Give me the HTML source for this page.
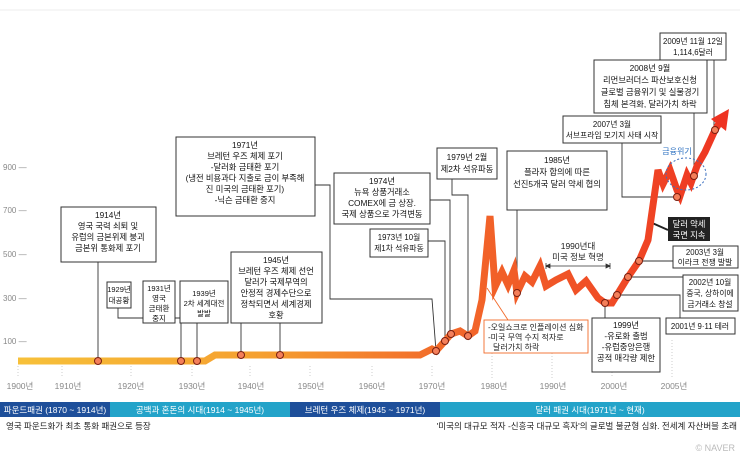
<!DOCTYPE html>
<html><head><meta charset="utf-8"><style>
body{margin:0;background:#fff;}
svg{display:block;font-family:"Liberation Sans","Noto Sans CJK KR",sans-serif;}
</style></head><body>
<svg width="740" height="461" viewBox="0 0 740 461" xmlns="http://www.w3.org/2000/svg">
<defs>
<linearGradient id="g" x1="0" y1="0" x2="740" y2="0" gradientUnits="userSpaceOnUse">
<stop offset="0" stop-color="#f7c33a"/><stop offset="0.35" stop-color="#f5a030"/><stop offset="0.6" stop-color="#f26a2a"/><stop offset="1" stop-color="#ee3322"/>
</linearGradient>
</defs>
<line x1="0" y1="10" x2="740" y2="10" stroke="#eee"/>
<g font-size="8" fill="#888">
<text x="3" y="170">900 —</text><text x="3" y="213">700 —</text><text x="3" y="257">500 —</text><text x="3" y="301">300 —</text><text x="3" y="344">100 —</text>
</g>
<g stroke="#ccc" stroke-dasharray="1,2">
<line x1="18" y1="366" x2="18" y2="378"/><line x1="62" y1="366" x2="62" y2="378"/><line x1="131" y1="366" x2="131" y2="378"/><line x1="192" y1="366" x2="192" y2="378"/><line x1="250" y1="366" x2="250" y2="378"/><line x1="310" y1="366" x2="310" y2="378"/><line x1="372" y1="366" x2="372" y2="378"/><line x1="432" y1="366" x2="432" y2="378"/><line x1="492" y1="350" x2="492" y2="378"/><line x1="552" y1="350" x2="552" y2="378"/><line x1="612" y1="372" x2="612" y2="378"/><line x1="672" y1="340" x2="672" y2="378"/>
</g>
<g font-size="8.5" fill="#888" text-anchor="middle">
<text x="20" y="389">1900년</text><text x="68" y="389">1910년</text><text x="131" y="389">1920년</text><text x="192" y="389">1930년</text><text x="251" y="389">1940년</text><text x="311" y="389">1950년</text><text x="372" y="389">1960년</text><text x="432" y="389">1970년</text><text x="494" y="389">1980년</text><text x="553" y="389">1990년</text><text x="614" y="389">2000년</text><text x="674" y="389">2005년</text>
</g>
<rect x="0" y="402" width="110" height="15" fill="#1e4f9a"/>
<rect x="110" y="402" width="180" height="15" fill="#23a3c9"/>
<rect x="290" y="402" width="150" height="15" fill="#1e4f9a"/>
<rect x="440" y="402" width="300" height="15" fill="#23a3c9"/>
<g font-size="8.5" fill="#fff" text-anchor="middle">
<text x="55" y="413">파운드패권 (1870 ~ 1914년)</text><text x="200" y="413">공백과 혼돈의 시대(1914 ~ 1945년)</text><text x="365" y="413">브레턴 우즈 체제(1945 ~ 1971년)</text><text x="590" y="413">달러 패권 시대(1971년 ~ 현재)</text>
</g>
<text x="6" y="429" font-size="8.5" fill="#222">영국 파운드화가 최초 통화 패권으로 등장</text>
<text x="737" y="429" font-size="8.5" fill="#222" text-anchor="end">'미국의 대규모 적자 -신흥국 대규모 흑자'의 글로벌 불균형 심화. 전세계 자산버블 초래</text>
<text x="735" y="451" font-size="9" fill="#bbb" text-anchor="end">© NAVER</text>

<g stroke="#333" fill="none" stroke-width="0.9">
<line x1="98" y1="262" x2="98" y2="361"/>
<polyline points="118,308 118,318 181,318 181,361"/>
<line x1="197" y1="323" x2="197" y2="361"/>
<line x1="241" y1="323" x2="241" y2="355"/>
<line x1="280" y1="323" x2="280" y2="355"/>
<polyline points="315,185 330,185 330,299 432,299 436,351"/>
<polyline points="430,200 450,200 450,334"/>
<polyline points="428,241 445,241 445,341"/>
<polyline points="452,179 452,195 468,195 468,336"/>
<line x1="517" y1="210" x2="517" y2="293"/>
<line x1="605" y1="303" x2="605" y2="318"/>
<polyline points="617,295 680,295 680,320"/>
<line x1="628" y1="277" x2="683" y2="277"/>
<line x1="639" y1="261" x2="673" y2="261"/>
<polyline points="622,143 622,197 677,197"/>
<line x1="694" y1="113" x2="694" y2="176"/>
<line x1="714" y1="60" x2="714" y2="130"/>
<line x1="650" y1="222" x2="668" y2="230" stroke="#222" stroke-width="2"/>
</g>
<polyline points="487,288 508,320" stroke="#f26a2a" fill="none" stroke-width="0.9"/>
<text x="578" y="249" font-size="8.5" fill="#222" text-anchor="middle">1990년대</text>
<text x="578" y="260" font-size="8.5" fill="#222" text-anchor="middle">미국 정보 혁명</text>
<line x1="546" y1="266" x2="610" y2="266" stroke="#333" stroke-width="0.8"/>
<path d="M546,263v6M610,263v6M546,266l4,-2v4zM610,266l-4,-2v4z" stroke="#333" stroke-width="0.8" fill="#333"/>

<polyline fill="none" stroke="url(#g)" stroke-width="7" stroke-linejoin="miter" points="18,361 205,361 215,355 420,355 432,349 436,351 445,341 451,334 460,331 468,336 475,331 482,300 490,216 495,287 502,272 508,285 514,270 517,293 525,276 532,282 540,266 546,286 556,280 568,274 576,290 586,281 598,298 605,303 612,303 617,295 628,277 639,261 648,240 658,170 663,184 670,170 677,190 680,196 687,175 691,183 697,166 705,152 715,130 720,122"/>
<polygon points="711,119 729,109 726,131" fill="#ee3322"/>
<g fill="#f47f5a" stroke="#7a1f10" stroke-width="1">
<circle cx="98" cy="361" r="3.5"/><circle cx="181" cy="361" r="3.5"/><circle cx="197" cy="361" r="3.5"/><circle cx="241" cy="355" r="3.5"/><circle cx="280" cy="355" r="3.5"/><circle cx="436" cy="351" r="3.5"/><circle cx="445" cy="341" r="3.5"/><circle cx="451" cy="334" r="3.5"/><circle cx="468" cy="336" r="3.5"/><circle cx="517" cy="293" r="3.5"/><circle cx="605" cy="303" r="3.5"/><circle cx="617" cy="295" r="3.5"/><circle cx="628" cy="277" r="3.5"/><circle cx="639" cy="261" r="3.5"/><circle cx="677" cy="197" r="3.5"/><circle cx="694" cy="176" r="3.5"/><circle cx="715" cy="130" r="3.5"/>
</g>
<ellipse cx="686" cy="174" rx="20" ry="16" fill="none" stroke="#3a6fc0" stroke-dasharray="2,2"/>
<text x="677" y="154" font-size="8" fill="#2a6fc0" text-anchor="middle">금융위기</text>

<g fill="#fff" stroke="#333" stroke-width="1">
<rect x="61" y="207" width="95" height="55"/>
<rect x="107" y="282" width="24" height="26"/>
<rect x="143" y="281" width="32" height="42"/>
<rect x="180" y="281" width="48" height="42"/>
<rect x="231" y="252" width="91" height="71"/>
<rect x="176" y="137" width="139" height="79"/>
<rect x="334" y="173" width="96" height="51"/>
<rect x="370" y="229" width="58" height="28"/>
<rect x="437" y="148" width="60" height="31"/>
<rect x="507" y="151" width="100" height="59"/>
<rect x="592" y="318" width="68" height="54"/>
<rect x="666" y="318" width="69" height="16"/>
<rect x="683" y="275" width="55" height="36"/>
<rect x="673" y="246" width="65" height="22"/>
<rect x="563" y="116" width="98" height="27"/>
<rect x="594" y="60" width="113" height="53"/>
<rect x="660" y="33" width="66" height="27"/>
</g>
<rect x="484" y="320" width="104" height="33" fill="#fff" stroke="#f26a2a" stroke-width="0.9"/>
<rect x="668" y="217" width="42" height="24" fill="#222"/>
<g font-size="8.3" fill="#111" text-anchor="middle">
<text x="108" y="218">1914년</text><text x="108" y="229">영국 국력 쇠퇴 및</text><text x="108" y="240">유럽의 금본위제 붕괴</text><text x="108" y="251">금본위 통화제 포기</text>
<text x="119" y="292" font-size="7.5">1929년</text><text x="119" y="303" font-size="7.5">대공황</text>
<text x="159" y="291" font-size="7.5">1931년</text><text x="159" y="301" font-size="7.5">영국</text><text x="159" y="311" font-size="7.5">금태환</text><text x="159" y="321" font-size="7.5">중지</text>
<text x="204" y="296" font-size="7.5">1939년</text><text x="204" y="306" font-size="7.5">2차 세계대전</text><text x="204" y="316" font-size="7.5">발발</text>
<text x="276" y="263">1945년</text><text x="276" y="274">브레턴 우즈 체제 선언</text><text x="276" y="285">달러가 국제무역의</text><text x="276" y="296">안정적 경제수단으로</text><text x="276" y="307">정착되면서 세계경제</text><text x="276" y="318">호황</text>
<text x="245" y="148">1971년</text><text x="245" y="159">브레턴 우즈 체제 포기</text><text x="245" y="170">-달러화 금태환 포기</text><text x="245" y="181">(냉전 비용과다 지출로 금이 부족해</text><text x="245" y="192">진 미국의 금태환 포기)</text><text x="245" y="203">-닉슨 금태환 중지</text>
<text x="382" y="184">1974년</text><text x="382" y="195">뉴욕 상품거래소</text><text x="382" y="206">COMEX에 금 상장.</text><text x="382" y="217">국제 상품으로 가격변동</text>
<text x="399" y="240" font-size="7.8">1973년 10월</text><text x="399" y="251" font-size="7.8">제1차 석유파동</text>
<text x="467" y="160">1979년 2월</text><text x="467" y="172">제2차 석유파동</text>
<text x="557" y="163">1985년</text><text x="557" y="175">플라자 합의에 따른</text><text x="557" y="187">선진5개국 달러 약세 협의</text>
<text x="626" y="328">1999년</text><text x="626" y="339">-유로화 출범</text><text x="626" y="350">-유럽중앙은행</text><text x="626" y="361">공적 매각량 제한</text>
<text x="700" y="329" font-size="7.8">2001년 9·11 테러</text>
<text x="710" y="285" font-size="7.8">2002년 10월</text><text x="710" y="296" font-size="7.8">중국, 상하이에</text><text x="710" y="307" font-size="7.8">금거래소 창설</text>
<text x="705" y="255" font-size="7.8">2003년 3월</text><text x="705" y="265" font-size="7.8">이라크 전쟁 발발</text>
<text x="612" y="127" font-size="7.8">2007년 3월</text><text x="612" y="138" font-size="7.8">서브프라임 모기지 사태 시작</text>
<text x="650" y="71">2008년 9월</text><text x="650" y="83">리먼브러더스 파산보호신청</text><text x="650" y="95">글로벌 금융위기 및 실물경기</text><text x="650" y="107">침체 본격화, 달러가치 하락</text>
<text x="693" y="44" font-size="7.8">2009년 11월 12일</text><text x="693" y="55" font-size="7.8">1,114,6달러</text>
</g>
<g font-size="8" fill="#222">
<text x="488" y="330">-오일쇼크로 인플레이션 심화</text><text x="488" y="340">-미국 무역 수지 적자로</text><text x="493" y="350">달러가치 하락</text>
</g>
<text x="689" y="227" font-size="8.3" fill="#fff" text-anchor="middle">달러 약세</text>
<text x="689" y="238" font-size="8.3" fill="#fff" text-anchor="middle">국면 지속</text>
</svg>
</body></html>
